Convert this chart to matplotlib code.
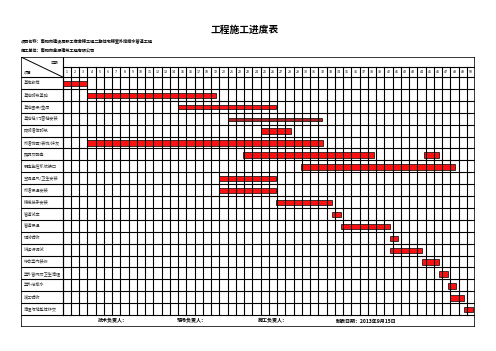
import matplotlib
matplotlib.use("Agg")
import matplotlib.pyplot as plt

plt.rcParams['font.family'] = ['Noto Sans CJK SC', 'DejaVu Sans']

# 任务名称
tasks = ["基准放样", "基础砌筑基础", "基础圈梁/垫层", "基础柱/门窗柱安装", "砖砌墙体砌筑",
         "外墙饰面/装饰/抹灰", "照明及配电", "弱电监控系统接口", "空调通风/卫生安装",
         "外墙保温安装", "楼梯扶手安装", "管道试压", "管道保温", "调试验收",
         "试运行调试", "综合室内装修", "室外管网及卫生清理", "室外给排水",
         "竣工验收", "清理场地整体移交"]

# 进度条 (任务序号, 开始, 结束) 单位: 天
bar_task = [0, 1, 2, 3, 4, 5, 6, 6, 7, 8, 9, 10, 11, 12, 13, 14, 15, 16, 17, 18, 19]
bar_start = [0, 3, 14, 20, 24, 3, 21.8, 43.8, 28.9, 19, 19, 25.8, 32.6, 33.7, 39.7,
             39.7, 43.6, 45.6, 46.7, 46.9, 48.7]
bar_end = [3, 18.6, 25.8, 31.4, 27.7, 31.6, 37.7, 45.6, 47.6, 25.8, 25.8, 32.6, 33.7,
           39.7, 40.6, 43.6, 45.6, 46.7, 47.7, 48.7, 49.7]

days = list(range(1, 51))
title = "工程施工进度表"
project = "项目名称：南阳市建设局职工宿舍楼工程二期住宅楼室外给排水管道工程"
company = "施工单位：南阳市金源建筑工程有限公司"
footer = ["技术负责人：", "现场负责人：", "施工负责人：", "制表日期：2013年9月15日"]

n = len(tasks)
ndays = len(days)
lab_w = 5.05
hdr = 1.68

fig = plt.figure(figsize=(4.96, 3.51), dpi=100)
ax = fig.add_axes([21 / 496, 1 - 327 / 351, (475.2 - 21) / 496, (327 - 57) / 351])
ax.set_xlim(-lab_w, ndays)
ax.set_ylim(n + 1, -hdr)
ax.axis('off')

lw = 0.8
# 横线
for i in range(0, n + 1):
    ax.plot([-lab_w, ndays], [i, i], color='black', lw=lw)
ax.plot([0, ndays], [-hdr / 2, -hdr / 2], color='black', lw=lw)
# 竖线
for d in range(0, ndays):
    ax.plot([d, d], [-hdr / 2, n], color='black', lw=lw)
ax.plot([0, 0], [-hdr, n], color='black', lw=lw)
# 外框
ax.plot([-lab_w, ndays, ndays, -lab_w, -lab_w], [-hdr, -hdr, n + 1, n + 1, -hdr],
        color='black', lw=1.1)
# 斜线表头
ax.plot([-lab_w, 0], [-hdr, 0], color='black', lw=0.7)
ax.text(-0.6, -hdr * 0.72, "日期", fontsize=2.8, ha='right', va='center')
ax.text(-lab_w + 0.4, -hdr * 0.22, "项目", fontsize=2.8, ha='left', va='center')

for d in days:
    ax.text(d - 0.5, -hdr / 4, str(d), fontsize=2.6, ha='center', va='center')

for i, t in enumerate(tasks):
    ax.text(-lab_w + 0.3, i + 0.5, t, fontsize=3.0, ha='left', va='center', color='#333333')

for ti, s, e in zip(bar_task, bar_start, bar_end):
    h = 0.45
    col = '#ff1010'
    if ti == 2:
        h = 0.32
    if ti == 3:
        h = 0.25
        col = '#b02020'
    ax.barh(ti + 0.55, e - s, left=s, height=h, color=col, edgecolor='black', linewidth=0.5)

fx = [6.1, 15.7, 25.5, 36.8]
for x, t in zip(fx, footer):
    ax.text(x, n + 0.5, t, fontsize=3.6, fontweight='bold', ha='center', va='center')

fig.text(245 / 496, 1 - 30 / 351, title, fontsize=7, fontweight='bold', ha='center', va='center')
fig.text(21 / 496, 1 - 41 / 351, project, fontsize=3.0, fontweight='bold', ha='left', va='center')
fig.text(21 / 496, 1 - 50 / 351, company, fontsize=3.0, fontweight='bold', ha='left', va='center')

fig.savefig("out.png", dpi=100, facecolor='white')
